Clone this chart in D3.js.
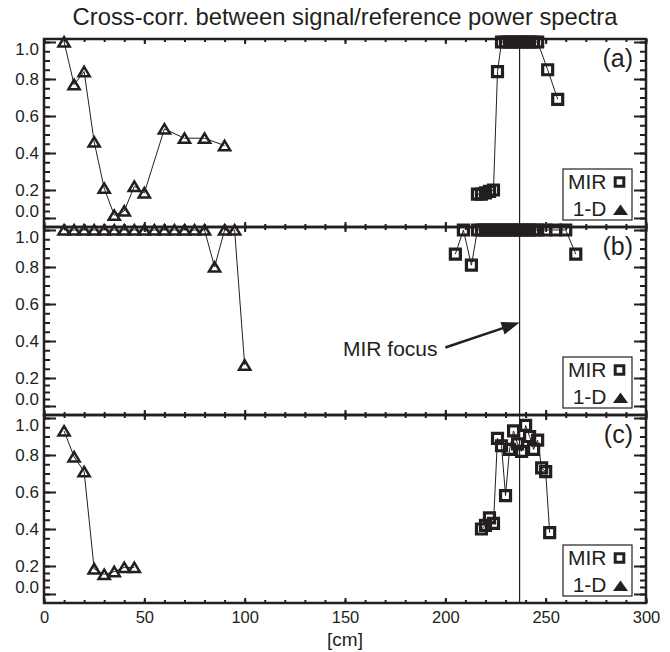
<!DOCTYPE html>
<html lang="en">
<head>
<meta charset="utf-8">
<title>Cross-corr. between signal/reference power spectra</title>
<script src="https://cdn.jsdelivr.net/npm/d3@7"></script>
<style>
  body { margin: 0; background: #fff; }
  svg text { font-family: "Liberation Sans", Arial, sans-serif; fill: #231f20; }
</style>
</head>
<body>
<div id="chart"></div>
<script>
// positions along the table [cm] and cross-correlation values, one pair of arrays per series
const triA_x = [10, 15, 20, 25, 30, 35, 40, 45, 50, 60, 70, 80, 90];
const triA_y = [1.0, 0.77, 0.84, 0.46, 0.21, 0.02, 0.05, 0.22, 0.18, 0.53, 0.48, 0.48, 0.44];
const mirA_x = [216, 218, 220, 222, 224, 226, 228, 230, 232, 234, 236, 238, 240, 242, 244, 246, 251, 256];
const mirA_y = [0.17, 0.17, 0.18, 0.19, 0.20, 0.84, 1, 1, 1, 1, 1, 1, 1, 1, 1, 1, 0.85, 0.69];

const triB_x = [10, 15, 20, 25, 30, 35, 40, 45, 50, 55, 60, 65, 70, 75, 80, 85, 90, 95, 100];
const triB_y = [1, 1, 1, 1, 1, 1, 1, 1, 1, 1, 1, 1, 1, 1, 1, 0.80, 1, 1, 0.27];
const mirB_x = [205, 209, 213, 216, 218, 220, 222, 224, 226, 228, 230, 232, 234, 236, 238, 240, 242, 244, 246, 250, 255, 260, 265];
const mirB_y = [0.87, 1, 0.81, 1, 1, 1, 1, 1, 1, 1, 1, 1, 1, 1, 1, 1, 1, 1, 1, 1, 1, 1, 0.87];

const triC_x = [10, 15, 20, 25, 30, 35, 40, 45];
const triC_y = [0.93, 0.79, 0.71, 0.18, 0.14, 0.16, 0.19, 0.19];
const mirC_x = [218, 220, 222, 224, 226, 228, 230, 232, 234, 236, 238, 240, 242, 244, 246, 248, 250, 252];
const mirC_y = [0.40, 0.42, 0.46, 0.43, 0.89, 0.85, 0.58, 0.83, 0.93, 0.86, 0.82, 0.96, 0.90, 0.83, 0.88, 0.73, 0.71, 0.38];

const panelLabels = ["(a)", "(b)", "(c)"];
const legendLabels = ["MIR", "1-D"];
const yTicks = [0, 0.2, 0.4, 0.6, 0.8, 1.0];
const xTicks = [0, 50, 100, 150, 200, 250, 300];
const focusCm = 237;

const panels = [
    { tri: [triA_x, triA_y], mir: [mirA_x, mirA_y] },
    { tri: [triB_x, triB_y], mir: [mirB_x, mirB_y] },
    { tri: [triC_x, triC_y], mir: [mirC_x, mirC_y] }
];

const width = 670, height = 652;
const left = 44, right = 646, panelH = 188;
const panelTops = [39, 227, 415];
const ink = "#231f20";

const svg = d3.select("#chart").append("svg")
    .attr("width", width)
    .attr("height", height);

const x = d3.scaleLinear().domain([0, 300]).range([left, right]);

// the printed axis squeezes the bottom 0.0-0.2 step, so the scale is piecewise
function yScale(top) {
    return d3.scaleLinear().domain([0, 0.2, 1.0]).range([top + 179, top + 151, top + 3]);
}

const triPath = "M0,-4.8L5.6,4.6L-5.6,4.6Z";
const sqPath = "M-5,-5H5V5H-5Z";

svg.append("text")
    .attr("x", (left + right) / 2)
    .attr("y", 25)
    .attr("text-anchor", "middle")
    .attr("font-size", 23.8)
    .text("Cross-corr. between signal/reference power spectra");

const yMinor = d3.range(0, 1.0001, 0.05);
const xMinor = d3.range(0, 300.1, 10);

panels.forEach((p, i) => {
    const top = panelTops[i];
    const y = yScale(top);
    const g = svg.append("g");

    // y axes (ticks inward on both sides)
    g.append("g").attr("transform", `translate(${left},0)`)
        .call(d3.axisLeft(y).tickValues(yMinor).tickSize(-6).tickFormat(""));
    const yl = g.append("g").attr("transform", `translate(${left},0)`)
        .call(d3.axisLeft(y).tickValues(yTicks).tickSize(-12).tickPadding(5).tickFormat(d3.format(".1f")));
    yl.selectAll("text")
        .attr("font-size", 17)
        .attr("font-family", null)
        .attr("y", (d) => d === 1 ? 7 : (d === 0 ? -7 : 0));
    g.append("g").attr("transform", `translate(${right},0)`)
        .call(d3.axisRight(y).tickValues(yMinor).tickSize(-6).tickFormat(""));
    g.append("g").attr("transform", `translate(${right},0)`)
        .call(d3.axisRight(y).tickValues(yTicks).tickSize(-12).tickFormat(""));

    // x axes on top and bottom of every panel
    g.append("g").attr("transform", `translate(0,${top})`)
        .call(d3.axisTop(x).tickValues(xMinor).tickSize(-3).tickFormat(""));
    g.append("g").attr("transform", `translate(0,${top})`)
        .call(d3.axisTop(x).tickValues(xTicks).tickSize(-5).tickFormat(""));
    g.append("g").attr("transform", `translate(0,${top + panelH})`)
        .call(d3.axisBottom(x).tickValues(xMinor).tickSize(-3).tickFormat(""));
    const xb = g.append("g").attr("transform", `translate(0,${top + panelH})`)
        .call(d3.axisBottom(x).tickValues(xTicks).tickSize(-5).tickPadding(8)
            .tickFormat(i === 2 ? d3.format("d") : ""));
    xb.selectAll("text").attr("font-size", 16.5).attr("font-family", null);

    g.selectAll(".domain").remove();
    g.selectAll(".tick line").attr("stroke", ink).attr("stroke-width", 2);

    // series
    const line = d3.line().x((d) => x(d[0])).y((d) => y(d[1]));
    const triData = d3.zip(p.tri[0], p.tri[1]);
    const mirData = d3.zip(p.mir[0], p.mir[1]);

    [triData, mirData].forEach((data) => {
        g.append("path")
            .datum(data)
            .attr("d", line)
            .attr("fill", "none")
            .attr("stroke", ink)
            .attr("stroke-width", 1);
    });

    g.selectAll(".tri")
        .data(triData)
        .enter()
        .append("path")
        .attr("class", "tri")
        .attr("transform", (d) => `translate(${x(d[0])},${y(d[1])})`)
        .attr("d", triPath)
        .attr("fill", "none")
        .attr("stroke", ink)
        .attr("stroke-width", 2.5)
        .attr("stroke-linejoin", "miter");

    g.selectAll(".sq")
        .data(mirData)
        .enter()
        .append("path")
        .attr("class", "sq")
        .attr("transform", (d) => `translate(${x(d[0])},${y(d[1])})`)
        .attr("d", sqPath)
        .attr("fill", "none")
        .attr("stroke", ink)
        .attr("stroke-width", 3.2);

    // frame
    g.append("rect")
        .attr("x", left)
        .attr("y", top)
        .attr("width", right - left)
        .attr("height", panelH)
        .attr("fill", "none")
        .attr("stroke", ink)
        .attr("stroke-width", 2.5);

    // panel label
    g.append("text")
        .attr("x", right - 13)
        .attr("y", top + 28)
        .attr("text-anchor", "end")
        .attr("font-size", 25)
        .text(panelLabels[i]);

    // legend
    const lg = g.append("g").attr("transform", `translate(563,${top + 130})`);
    lg.append("rect")
        .attr("width", 69)
        .attr("height", 51)
        .attr("fill", "#fff")
        .attr("stroke", ink)
        .attr("stroke-width", 1.2);
    lg.append("text").attr("x", 43.5).attr("y", 19.5).attr("text-anchor", "end")
        .attr("font-size", 21).text(legendLabels[0]);
    lg.append("text").attr("x", 43.5).attr("y", 46.5).attr("text-anchor", "end")
        .attr("font-size", 21).text(legendLabels[1]);
    lg.append("path")
        .attr("transform", "translate(56.5,13)")
        .attr("d", "M-4.3,-4.3H4.3V4.3H-4.3Z")
        .attr("fill", "none")
        .attr("stroke", ink)
        .attr("stroke-width", 3);
    lg.append("path")
        .attr("transform", "translate(57.5,41)")
        .attr("d", "M0,-5.5L7.5,5L-7.5,5Z")
        .attr("fill", ink);
});

// MIR focus line through all panels
svg.append("line")
    .attr("x1", x(focusCm))
    .attr("x2", x(focusCm))
    .attr("y1", panelTops[0])
    .attr("y2", panelTops[2] + panelH)
    .attr("stroke", ink)
    .attr("stroke-width", 1.2);

// arrow annotation in panel (b), given in data coordinates
const yb = yScale(panelTops[1]);
const tail = [x(200), yb(0.365)];
const tip = [x(focusCm), yb(0.5)];
const ang = Math.atan2(tip[1] - tail[1], tip[0] - tail[0]);
const headLen = 18, headW = 6.5;
const base = [tip[0] - headLen * Math.cos(ang), tip[1] - headLen * Math.sin(ang)];

svg.append("line")
    .attr("x1", tail[0]).attr("y1", tail[1])
    .attr("x2", base[0] + 2 * Math.cos(ang)).attr("y2", base[1] + 2 * Math.sin(ang))
    .attr("stroke", ink)
    .attr("stroke-width", 2.5);
svg.append("path")
    .attr("d", d3.line()([
        tip,
        [base[0] - headW * Math.sin(ang), base[1] + headW * Math.cos(ang)],
        [base[0] + headW * Math.sin(ang), base[1] - headW * Math.cos(ang)]
    ]) + "Z")
    .attr("fill", ink);

svg.append("text")
    .attr("x", x(149))
    .attr("y", yb(0.32))
    .attr("font-size", 21)
    .text("MIR focus");

svg.append("text")
    .attr("x", (left + right) / 2)
    .attr("y", 646)
    .attr("text-anchor", "middle")
    .attr("font-size", 19)
    .text("[cm]");
</script>
</body>
</html>
